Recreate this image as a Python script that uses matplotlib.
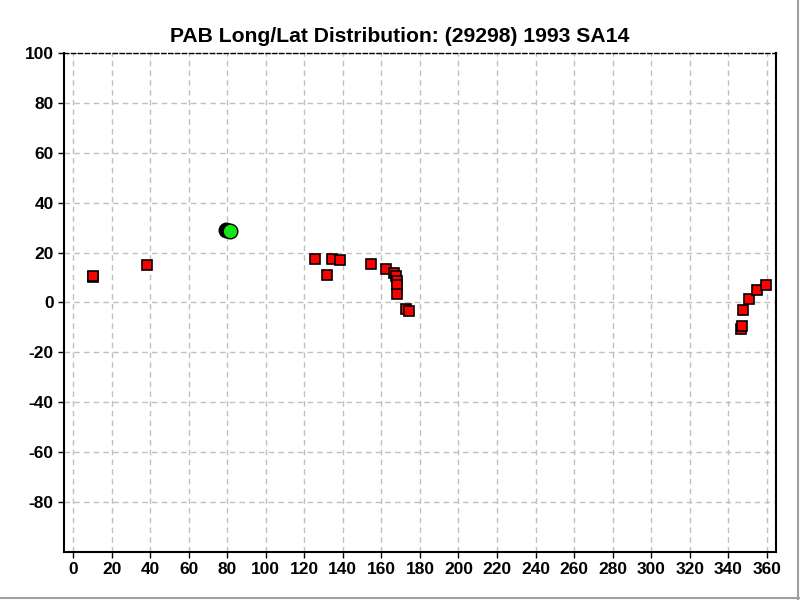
import matplotlib
matplotlib.use("Agg")
import matplotlib.pyplot as plt
from matplotlib.lines import Line2D

plt.rcParams['font.family'] = ['Liberation Sans', 'DejaVu Sans']
plt.rcParams['axes.unicode_minus'] = False

title = "PAB Long/Lat Distribution: (29298) 1993 SA14"

# observations (red squares)
obs_lon = [10.3, 10.3, 38.4, 125.7, 131.6, 134.5, 138.6, 154.7, 162.5, 166.7,
           167.7, 168.2, 168.2, 168.2, 172.7, 174.5,
           346.8, 347.4, 347.9, 350.7, 355.1, 359.5]
obs_lat = [10.0, 10.5, 14.9, 17.3, 10.9, 17.3, 16.9, 15.3, 13.3, 11.7,
           10.4, 8.4, 6.9, 3.4, -2.6, -3.4,
           -10.7, -9.4, -3.1, 1.3, 4.9, 6.9]

# reference point (black) and mean (green)
ref_lon = [79.4]
ref_lat = [29.2]
mean_lon = [81.7]
mean_lat = [28.8]

xticks = list(range(0, 361, 20))
yticks = list(range(-80, 101, 20))

fig = plt.figure(figsize=(8, 6), dpi=100)
ax = fig.add_axes([0.080, 0.0805, 0.890, 0.831])

ax.grid(True, color='#c0c0c0', linestyle=(0, (4, 3)), linewidth=1)
ax.set_axisbelow(True)

ax.plot(obs_lon, obs_lat, linestyle='none', marker='s', markersize=7,
        markerfacecolor='#ff0000', markeredgecolor='black', markeredgewidth=1.2, zorder=3)
ax.plot(ref_lon, ref_lat, linestyle='none', marker='o', markersize=10.5,
        markerfacecolor='black', markeredgecolor='black', zorder=4)
ax.plot(mean_lon, mean_lat, linestyle='none', marker='o', markersize=10.5,
        markerfacecolor='#14e614', markeredgecolor='black', markeredgewidth=1, zorder=5)

ax.set_xlim(-4.7, 364.8)
ax.set_ylim(-100, 100)
ax.set_xticks(xticks)
ax.set_yticks(yticks)
ax.tick_params(axis='both', direction='out', length=4, width=1, labelsize=12.5)
for lab in ax.get_xticklabels() + ax.get_yticklabels():
    lab.set_fontweight('bold')

for s in ['left', 'bottom', 'right']:
    ax.spines[s].set_color('black')
    ax.spines[s].set_linewidth(1.5)
ax.spines['top'].set_linestyle((0, (3, 2)))
ax.spines['top'].set_linewidth(1)

fig.text(0.5, 0.940, title, fontsize=15.2, fontweight='bold', ha='center', va='center')

# outer gray frame lines
fig.add_artist(Line2D([0.9975, 0.9975], [0, 1], transform=fig.transFigure, color='#a0a0a0', lw=1.5))
fig.add_artist(Line2D([0, 1], [0.0035, 0.0035], transform=fig.transFigure, color='#a0a0a0', lw=1.5))

fig.savefig('out.png', dpi=100)
